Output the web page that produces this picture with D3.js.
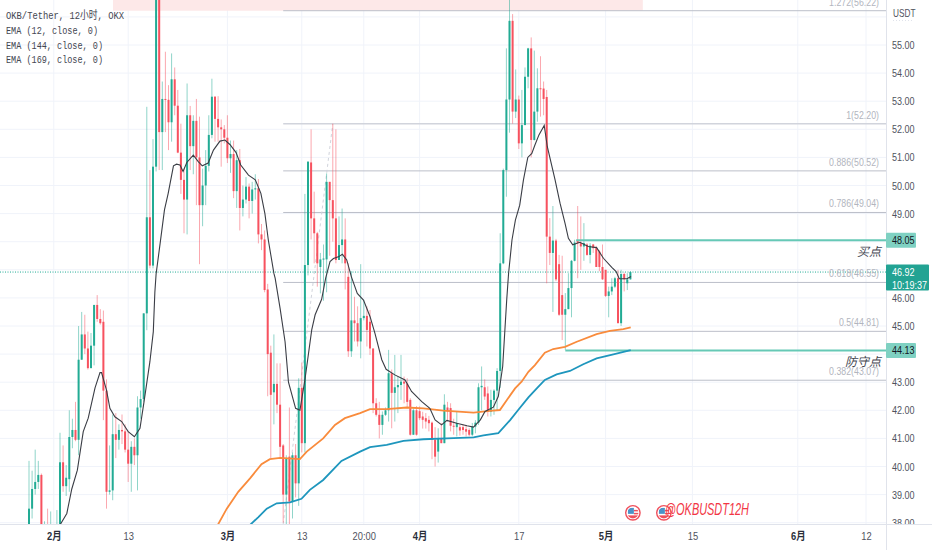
<!DOCTYPE html>
<html>
<head>
<meta charset="utf-8">
<script src="https://cdn.jsdelivr.net/npm/d3@7"></script>
<style>
  html, body { margin: 0; padding: 0; background: #fff; overflow: hidden; }
</style>
</head>
<body>
<div id="chart"></div>
<script>
// candles, one every 12 hours
var opens = [37.6,38.5,39.2,39.45,39.7,37.5,37.9,37.4,37.8,37.5,
  37.9,40.15,39.3,39.55,41.05,41.3,40.95,43.8,44.7,44.2,
  43.5,44.3,45.75,45.25,45.15,42.7,39.1,39.15,41.15,40.95,
  41.3,41.25,40.6,40.1,40.7,40.4,42.1,42.4,45.45,48.87,
  47.15,50.67,57,51.9,53.08,53.05,52.25,53.78,52.84,51.17,
  50.2,49.5,52.5,51.4,52.3,51,49.3,50,50.7,51.8,
  53.16,52.37,52.07,52,51.7,50.97,51.12,49.8,50.9,49.2,
  49.5,49.96,49.45,49.86,49.9,48.26,48.08,46.3,44.05,42.64,
  42.94,42.2,40.75,39,40.35,38.75,40.4,39.4,42.8,40.83,
  47.17,50.82,48.83,48.3,47.1,47.37,47.37,50.13,49.48,48.83,
  47.35,47.88,48.08,46.75,44.1,45.2,45.1,44.45,45.28,45.36,
  45.15,44.2,42.25,41.84,41.48,41.84,42,43.32,42.62,42.82,
  42.9,43.02,42.95,42.37,41.13,42,41.97,41.78,41.72,41.66,
  41.56,40.95,40.53,41,40.83,42.1,42.08,41.45,41.4,41.4,
  41.4,41.33,41.3,41.13,41.42,41.56,42.82,42.82,42.6,41.95,
  42.37,42.7,43.4,47.23,50.55,53.06,55.86,52.63,53.06,51.5,
  52.15,53.87,54.88,51.62,52.63,53.46,53.45,53.15,48.18,47.6,
  48.04,47.2,46.1,45.4,45.6,46.35,47.32,48.05,47.95,47.83,
  47.9,47.53,47.9,47.77,47.65,47.1,47,46.07,46.23,46.4,
  46.7,45.1,46.85,46.52,46.66];
var closes = [38.5,39.2,39.45,39.7,37.9,37.9,37.5,37.9,37.5,37.9,
  40.15,39.3,39.6,41.05,41.3,40.95,43.8,44.7,44.2,43.5,
  44.3,45.75,45.25,45.1,42.7,39.1,39.15,41.15,40.95,41.3,
  41.25,40.6,40.1,40.7,40.4,42.1,42.4,45.45,48.87,47.15,
  50.67,57,51.9,53.08,53.05,52.25,53.78,52.84,51.17,50.2,
  49.5,52.5,51.4,52.3,51,49.3,50,50.7,51.8,53.16,
  52.37,52.07,52,51.7,50.97,51.12,49.8,50.9,49.2,49.5,
  49.96,49.45,49.86,49.9,48.26,48.08,46.28,44,42.55,42.94,
  42.2,40.7,39,40.3,38.75,40.4,39.4,42.8,40.83,47.17,
  50.85,48.83,48.3,47.23,47.37,47.4,50.13,49.48,48.83,47.35,
  47.88,48.08,47.23,44.1,45.2,45.1,44.45,45.28,45.36,44.86,
  44.2,42.25,41.84,41.48,41.84,42,43.32,42.62,42.82,42.9,
  43.02,42.95,42.3,41.13,42,41.13,41.72,41.66,41.6,41.54,
  40.95,40.35,41,40.83,42.2,41.96,41.45,41.43,41.55,41.28,
  41.3,41.24,41.13,41.42,41.56,42.82,42.87,42.49,41.95,42.37,
  42.7,43.4,47.23,50.55,53.06,55.86,52.63,53.06,51.5,52.15,
  53.87,54.88,51.62,52.63,53.46,53.45,53.08,48.18,47.6,48.04,
  46.66,45.4,45.4,45.6,46.35,47.32,47.97,47.95,47.83,47.95,
  47.53,47.86,47.77,47.1,47.1,46.66,46.07,46.23,46.4,46.7,
  45.1,46.85,46.66,46.66,46.92];
var highs = [40.2,39.85,40.6,40.2,39.75,38.05,38.5,38.4,37.95,38.45,
  41.2,40.75,40.05,42,41.7,42.3,45,45.5,45.4,44.8,
  44.75,45.75,46.1,45.6,45.55,43.1,40.75,41.85,41.9,41.5,
  41.85,41.5,41.25,40.9,41,42.5,42.7,45.45,52.8,50.55,
  51.65,57.5,58,53.7,54.76,53.57,54.7,54.2,53.4,52.2,
  50.6,53.63,52.83,52.5,53.08,52.45,50.6,51.26,52.5,53.8,
  53.18,53.18,52.35,52.15,52.5,51.6,51.6,51.26,51.3,50,
  50.3,50.07,50.13,50.4,50.23,48.63,48.4,46.5,44.3,44.7,
  43.67,43.67,40.8,40.4,42.1,40.5,40.8,43.14,43.7,49.7,
  50.85,52,49.78,48.35,47.6,47.9,50.43,50.13,52.2,52,
  48.9,49.18,48.83,47.23,46.95,46.04,45.7,47.2,45.93,45.7,
  45.57,44.2,42.43,42.3,41.96,42.1,44.15,43.45,43.97,43.2,
  43.97,43.2,43.14,42.43,42.07,42.15,42.14,41.95,41.9,41.8,
  41.6,41.4,41.36,41.55,42.57,42.3,42.25,41.7,41.96,41.48,
  41.5,41.48,41.36,41.55,41.65,42.96,43.56,43.1,42.85,42.73,
  42.75,43.5,48.3,50.6,54.88,56.7,56.1,54.13,53.2,53.4,
  54.2,54.9,55.27,54.8,54.17,54.6,53.7,53.4,48.84,49.27,
  48.1,47.53,47.5,46.17,46.88,47.35,48.07,49.27,48.9,48.66,
  47.95,47.95,47.92,47.85,47.7,47.9,47,46.4,46.7,46.75,
  47,47,46.9,46.88,46.95];
var lows = [37,38.15,39,39.2,37.5,37.3,37.3,37.2,37.3,37.3,
  37.7,39.1,38.95,39.1,40.65,40.9,40.4,43.8,44,43.45,
  43.5,43.6,45.15,45.05,41.65,38.5,39,38.8,40.3,40.6,
  40.8,40.5,39.45,39.1,40.05,39.15,41.7,42.3,44.85,47.05,
  47.05,50.5,50.55,50.55,51.9,51.26,51.56,52.5,51.15,49.7,
  48.3,48.26,50.55,50.4,49.3,47.2,48.55,49.3,50.5,51.68,
  51.56,51.56,50.67,51.5,50.8,50.45,49.55,49.2,48.4,48.9,
  49.36,48.83,49,49.5,47.94,47.7,46.2,42.5,40.3,41.5,
  41.9,40.3,38,37.9,37.9,38.15,38.9,38.6,40.5,40.5,
  46.8,48.08,47.23,46.4,46.16,45.9,46.2,47.5,48,47.23,
  47.35,47.23,46.3,43.9,43.9,44.45,44.27,43.85,45.2,44.27,
  43.97,41.9,41.78,41,41.13,41.8,41.6,41.36,41.6,41.9,
  42.37,42.25,42.07,41.1,41.13,41.1,41.65,41.35,41.35,41.25,
  40.26,40,40.14,40.83,40.83,41.6,41.25,41.13,41.07,41.1,
  41.13,41.07,41.07,41.07,41.18,41.48,42,42.37,41.78,41.78,
  41.84,42,42.8,47.2,49.6,51.88,52.2,52.4,51.3,51,
  52.15,53.46,51,51.6,52.27,52.45,52.5,46.52,47.17,45.5,
  46.6,45.36,44.5,44.15,45.6,45.31,47.3,46.7,47,47.32,
  47.5,47.23,47.6,47.1,46.95,46.64,46.03,45.31,46.1,46.35,
  45.1,45,46.23,46.28,46.65];

// EMA lines, read at the bends (bar number, price)
var ema12Bars = [10,12.2,13.8,15.6,17.5,19.1,21.3,22.9,23.4,25,26.1,27.7,29.9,32,34,35.8,37.1,39,40.1,40.6,41,42.3,43.7,44.9,46.6,47.6,48.7,49.7,50.9,53,54.6,55.9,57.8,59.5,61.6,63.2,64.8,66.8,68.3,70.8,73,74.8,76.1,77.2,79,79.4,81,82.6,83.7,86,87.4,89,91.2,92.3,94.4,95.7,97.1,98.2,99.8,101.1,102.5,104,105.9,107.9,110,111.6,113.8,115.2,118,121.3,123.4,126.7,129.3,131,133.1,134.8,138,141.3,143.4,145.6,147.1,149.8,151.4,152.8,154.1,154.7,155.8,156.9,158.3,159.5,160.9,162.2,163.2,164.5,166.2,167.2,169.7,171.3,172.9,174,175.4,177.7,180.4,183.1,185.3,188,189.4,190.4,192.9,194.2];
var ema12Vals = [37.92,38.33,39.2,39.87,41.24,41.72,42.8,43.34,43.34,42.72,42.07,41.77,41.6,41.24,41.06,41.36,42.3,43.73,44.8,46.2,46.85,47.94,49.13,49.72,50.7,50.76,50.73,50.5,50.82,51.08,50.85,50.7,50.8,51.26,51.58,51.62,51.46,51.17,50.73,50.37,50.2,49.72,49,48.06,46.87,46.7,45.63,44.44,43,42.07,42,43.08,44.86,45.4,45.95,46.7,47.29,47.4,47.46,47.55,47.35,46.75,46.16,45.92,45.34,44.74,43.8,43.46,43.26,43.08,42.67,42.31,42.07,41.66,41.48,41.64,41.54,41.45,41.4,41.66,41.96,42.11,42.5,43.56,45.93,46.87,48.06,48.77,49.3,50.2,51,51.14,51.44,51.8,52.14,51.38,50.2,49.37,48.66,48.12,47.89,47.98,47.83,47.79,47.41,47.09,46.94,46.68,46.68,46.76];
var ema144Bars = [60.9,63.8,67.5,71.3,75,77.7,81,87.4,89.6,94.9,98.7,101.9,106.8,110,115.4,121.9,127.2,133.7,143.4,148.7,151.9,154.1,156.8,158.9,161.1,163.2,166.4,169.1,172.9,176.7,183.1,187.4,191.7,194.1];
var ema144Vals = [37.92,38.5,39.1,39.58,40.08,40.26,40.31,40.26,40.53,41,41.48,41.72,41.9,42.04,42.04,42.1,42.07,41.99,41.92,41.98,42.01,42.36,42.78,43.02,43.37,43.61,44.05,44.18,44.26,44.44,44.71,44.83,44.89,44.95];
var ema169Bars = [71.3,74,76.7,79.9,84.2,87.9,90.6,94.9,100.8,106.8,110,115.4,120.8,127.2,134.8,143.4,146.6,151.4,155.2,157.8,161.1,163.8,166.4,170.2,174.5,178.8,183.1,188.5,194.1];
var ema169Vals = [37.92,38.2,38.5,38.69,38.72,38.85,39.17,39.52,40.2,40.53,40.69,40.77,40.91,40.97,41,41.04,41.11,41.19,41.65,42.01,42.46,42.78,43.08,43.28,43.4,43.64,43.85,43.99,44.14];

var priceTicks = [38,39,40,41,42,43,45,46,49,50,51,52,53,54,55];
var timeTickBars = [8,32,64,88,108,126,158,186,214,248,270];
var timeTickLabels = ["2月","13","3月","13","20:00","4月","17","5月","15","6月","12"];
var monthLabels = ["2月","3月","4月","5月","6月"];

var fibLevels = ["1.272","1","0.886","0.786","0.618","0.5","0.382"];
var fibPrices = [56.22,52.20,50.52,49.04,46.55,44.81,43.07];

var legendLines = ["OKB/Tether, 12小时, OKX","EMA (12, close, 0)","EMA (144, close, 0)","EMA (169, close, 0)"];
var legendWidths = [118,92,97,97];

var lastPrice = 46.92;
var countdown = "10:19:37";
var buyPrice = 48.05;
var stopPrice = 44.13;

var svgWidth = 932;
var svgHeight = 550;
var plotRight = 886;
var plotBottom = 524;

var green = "#22ab94";
var red = "#f7525f";
var narrowFont = "'Liberation Sans', 'Noto Sans CJK SC', sans-serif";

// the labels in this chart are squeezed sideways, so shrink them to fit
function squeeze(sel, factor) {
  sel.attr("font-family", narrowFont)
    .attr("lengthAdjust", "spacingAndGlyphs")
    .attr("textLength", function() { return this.getComputedTextLength() * factor; });
}

var svg = d3.select("#chart")
  .append("svg")
  .attr("width", svgWidth)
  .attr("height", svgHeight)
  .style("display", "block");

svg.append("rect")
  .attr("width", svgWidth)
  .attr("height", svgHeight)
  .attr("fill", "#fff");

svg.append("clipPath").attr("id", "plotClip")
  .append("rect")
  .attr("width", plotRight)
  .attr("height", plotBottom);

svg.append("clipPath").attr("id", "axisClip")
  .append("rect")
  .attr("x", plotRight)
  .attr("width", svgWidth - plotRight)
  .attr("height", plotBottom);

// scales: bar number to pixels, price to pixels
var xScale = d3.scaleLinear().domain([0, 194]).range([29, 630.4]);
var yScale = d3.scaleLinear().domain([55, 43]).range([45, 382.2]);

var plot = svg.append("g").attr("clip-path", "url(#plotClip)");

// grid
var allPrices = d3.range(38, 57);
plot.selectAll(".hgrid")
  .data(allPrices)
  .enter()
  .append("line")
  .attr("x1", 0)
  .attr("x2", plotRight)
  .attr("y1", d => yScale(d))
  .attr("y2", d => yScale(d))
  .attr("stroke", "#f0f3fa");

plot.selectAll(".vgrid")
  .data(timeTickBars)
  .enter()
  .append("line")
  .attr("x1", d => xScale(d))
  .attr("x2", d => xScale(d))
  .attr("y1", 0)
  .attr("y2", plotBottom)
  .attr("stroke", "#f0f3fa");

// pink zone above the top fib level
plot.append("rect")
  .attr("x", xScale(27.1))
  .attr("width", xScale(198) - xScale(27.1))
  .attr("y", 0)
  .attr("height", yScale(56.22))
  .attr("fill", "#fde8e8");

// fib levels
plot.selectAll(".fib")
  .data(fibPrices)
  .enter()
  .append("line")
  .attr("x1", xScale(82))
  .attr("x2", plotRight)
  .attr("y1", d => yScale(d))
  .attr("y2", d => yScale(d))
  .attr("stroke", (d, i) => i == 1 ? "#d1d4dc" : "#bcbfc9")
  .attr("stroke-width", (d, i) => i == 1 ? 1.6 : 1);

// fib trend line
plot.append("line")
  .attr("x1", xScale(82))
  .attr("y1", yScale(37.95))
  .attr("x2", xScale(98))
  .attr("y2", yScale(52.2))
  .attr("stroke", "#d1d4dc")
  .attr("stroke-dasharray", "3,3");

// last price line
plot.append("line")
  .attr("x1", 0)
  .attr("x2", plotRight)
  .attr("y1", yScale(lastPrice))
  .attr("y2", yScale(lastPrice))
  .attr("stroke", "#22ab94")
  .attr("stroke-dasharray", "1,1.5");

// wicks then bodies
var bars = d3.range(opens.length);

plot.selectAll(".wick")
  .data(bars)
  .enter()
  .append("line")
  .attr("x1", d => xScale(d))
  .attr("x2", d => xScale(d))
  .attr("y1", d => yScale(highs[d]))
  .attr("y2", d => yScale(lows[d]))
  .attr("stroke", d => closes[d] >= opens[d] ? green : red)
  .attr("stroke-opacity", 0.5)
  .attr("stroke-width", 1);

plot.selectAll(".body")
  .data(bars)
  .enter()
  .append("rect")
  .attr("x", d => xScale(d) - 1)
  .attr("width", 2)
  .attr("y", d => yScale(Math.max(opens[d], closes[d])))
  .attr("height", d => Math.max(1, Math.abs(yScale(opens[d]) - yScale(closes[d]))))
  .attr("fill", d => closes[d] >= opens[d] ? green : red);

// buy and stop levels
plot.append("line")
  .attr("x1", xScale(176.5))
  .attr("x2", plotRight)
  .attr("y1", yScale(buyPrice))
  .attr("y2", yScale(buyPrice))
  .attr("stroke", "#66c9b6")
  .attr("stroke-width", 2);

plot.append("line")
  .attr("x1", xScale(173))
  .attr("x2", plotRight)
  .attr("y1", yScale(stopPrice))
  .attr("y2", yScale(stopPrice))
  .attr("stroke", "#66c9b6")
  .attr("stroke-width", 2);

// EMAs
function drawEma(barList, valList, color, width, curve) {
  var line = d3.line()
    .x(d => xScale(barList[d]))
    .y(d => yScale(valList[d]))
    .curve(curve);
  plot.append("path")
    .attr("d", line(d3.range(barList.length)))
    .attr("fill", "none")
    .attr("stroke", color)
    .attr("stroke-width", width);
}
drawEma(ema144Bars, ema144Vals, "#f98b3c", 1.8, d3.curveLinear);
drawEma(ema169Bars, ema169Vals, "#1e96bd", 1.8, d3.curveLinear);
drawEma(ema12Bars, ema12Vals, "#3a3d45", 1.1, d3.curveLinear);

// fib labels
svg.selectAll(".fibLabel")
  .data(fibPrices)
  .enter()
  .append("text")
  .attr("x", 879)
  .attr("y", d => yScale(d) - 5)
  .attr("text-anchor", "end")
  .attr("font-size", "11px")
  .attr("fill", "#b2b5be")
  .text((d, i) => fibLevels[i] + "(" + d.toFixed(2) + ")")
  .call(squeeze, 0.8);

// buy and stop notes
svg.append("text")
  .attr("x", 881)
  .attr("y", yScale(buyPrice) + 16)
  .attr("text-anchor", "end")
  .attr("font-family", narrowFont)
  .attr("font-size", "12px")
  .attr("font-style", "italic")
  .attr("fill", "#434651")
  .text("买点");

svg.append("text")
  .attr("x", 881)
  .attr("y", yScale(stopPrice) + 16)
  .attr("text-anchor", "end")
  .attr("font-family", narrowFont)
  .attr("font-size", "12px")
  .attr("font-style", "italic")
  .attr("fill", "#434651")
  .text("防守点");

// flag icons
var iconBars = [194.8, 204.8];
var iconPrice = 38.35;
iconBars.forEach(function(b, k) {
  var icon = svg.append("g")
    .attr("transform", `translate(${xScale(b)}, ${yScale(iconPrice)})`);
  icon.append("clipPath").attr("id", "iconClip" + k)
    .append("circle").attr("r", 5.6);
  icon.append("circle")
    .attr("r", 7.2)
    .attr("fill", "#fff")
    .attr("stroke", "#f0505c")
    .attr("stroke-width", 1.4);
  var inner = icon.append("g").attr("clip-path", `url(#iconClip${k})`);
  inner.append("rect").attr("x", -6).attr("y", -6).attr("width", 12).attr("height", 12).attr("fill", "#fff");
  inner.append("rect").attr("x", -6).attr("y", 2.5).attr("width", 12).attr("height", 3.5).attr("fill", "#f0505c");
  inner.append("rect").attr("x", 1).attr("y", -3).attr("width", 5).attr("height", 1.5).attr("fill", "#f0505c");
  inner.append("rect").attr("x", 1).attr("y", 0).attr("width", 5).attr("height", 1.5).attr("fill", "#f0505c");
  inner.append("rect").attr("x", -5).attr("y", -5).attr("width", 6).attr("height", 6).attr("fill", "#4b93c9");
});

// watermark
svg.append("text")
  .attr("x", 665)
  .attr("y", 515)
  .attr("font-family", "Liberation Sans")
  .attr("font-size", "16px")
  .attr("font-style", "italic")
  .attr("fill", "#f23645")
  .attr("textLength", 84)
  .attr("lengthAdjust", "spacingAndGlyphs")
  .text("@OKBUSDT12H");

// legend
svg.selectAll(".legend")
  .data(legendLines)
  .enter()
  .append("text")
  .attr("x", 6)
  .attr("y", (d, i) => 19 + i * 14.8)
  .attr("font-family", "'Liberation Mono', 'Noto Sans CJK SC', monospace")
  .attr("font-size", "11px")
  .attr("fill", "#434651")
  .attr("textLength", (d, i) => legendWidths[i])
  .attr("lengthAdjust", "spacingAndGlyphs")
  .text(d => d);

// price axis
var yAxis = d3.axisRight(yScale)
  .tickValues(priceTicks)
  .tickSize(0)
  .tickPadding(6)
  .tickFormat(d3.format(".2f"));

var yAxisGroup = svg.append("g")
  .attr("clip-path", "url(#axisClip)")
  .append("g")
  .attr("transform", `translate(${plotRight}, 0)`)
  .call(yAxis);
yAxisGroup.select(".domain").remove();
yAxisGroup.selectAll("text")
  .attr("font-size", "11px")
  .attr("fill", "#50535e")
  .call(squeeze, 0.82);

// time axis
var xAxis = d3.axisBottom(xScale)
  .tickValues(timeTickBars)
  .tickSize(0)
  .tickPadding(8)
  .tickFormat((d, i) => timeTickLabels[i]);

var xAxisGroup = svg.append("g")
  .attr("transform", `translate(0, ${plotBottom})`)
  .call(xAxis);
xAxisGroup.select(".domain").remove();
xAxisGroup.selectAll("text")
  .attr("font-size", "11px")
  .attr("font-weight", (d, i) => monthLabels.indexOf(timeTickLabels[i]) >= 0 ? "bold" : "normal")
  .attr("fill", (d, i) => monthLabels.indexOf(timeTickLabels[i]) >= 0 ? "#2a2e39" : "#50535e")
  .call(squeeze, 0.85);

// axis borders
svg.append("line")
  .attr("x1", plotRight + 0.5)
  .attr("x2", plotRight + 0.5)
  .attr("y1", 0)
  .attr("y2", svgHeight)
  .attr("stroke", "#e0e3eb");
svg.append("line")
  .attr("x1", 0)
  .attr("x2", svgWidth)
  .attr("y1", plotBottom + 0.5)
  .attr("y2", plotBottom + 0.5)
  .attr("stroke", "#e0e3eb");

// unit label
svg.append("text")
  .attr("x", 893)
  .attr("y", 17)
  .attr("font-size", "11px")
  .attr("fill", "#50535e")
  .text("USDT")
  .call(squeeze, 0.75);
svg.append("line")
  .attr("x1", 893)
  .attr("x2", 912)
  .attr("y1", 20.5)
  .attr("y2", 20.5)
  .attr("stroke", "#e0e3eb")
  .attr("stroke-dasharray", "1,2");

// price tags
function priceTag(price, w, h, fill, color, lines) {
  var top = yScale(price) - 7.5;
  svg.append("rect")
    .attr("x", plotRight)
    .attr("y", top)
    .attr("width", w)
    .attr("height", h)
    .attr("rx", 1)
    .attr("fill", fill);
  lines.forEach(function(t, i) {
    svg.append("text")
      .attr("x", plotRight + 6)
      .attr("y", top + 11.5 + i * 13)
      .attr("font-size", "11px")
      .attr("fill", color)
      .text(t)
      .call(squeeze, 0.82);
  });
}
priceTag(buyPrice, 30, 15, "#7fd1c2", "#131722", [buyPrice.toFixed(2)]);
priceTag(stopPrice, 30, 15, "#7fd1c2", "#131722", [stopPrice.toFixed(2)]);
priceTag(lastPrice, 43, 26, "#22a393", "#fff", [lastPrice.toFixed(2), countdown]);
</script>
</body>
</html>
